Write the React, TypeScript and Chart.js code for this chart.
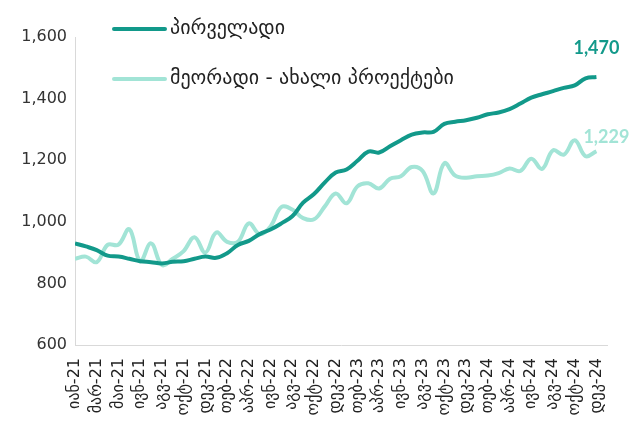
import React, { useEffect, useRef } from 'react';
import { Chart, registerables } from 'chart.js';

Chart.register(...registerables);

const tickLabels = [
  'იან-21', 'მარ-21', 'მაი-21', 'ივნ-21', 'აგვ-21', 'ოქტ-21', 'დეკ-21',
  'თებ-22', 'აპრ-22', 'ივნ-22', 'აგვ-22', 'ოქტ-22', 'დეკ-22',
  'თებ-23', 'აპრ-23', 'ივნ-23', 'აგვ-23', 'ოქტ-23', 'დეკ-23',
  'თებ-24', 'აპრ-24', 'ივნ-24', 'აგვ-24', 'ოქტ-24', 'დეკ-24',
];

const seriesNames = ['პირველადი', 'მეორადი - ახალი პროექტები'];

const primary = [
  930, 920, 908, 890, 887, 880, 872, 869, 865, 870,
  872, 880, 887, 883, 898, 925, 938, 960, 975, 995,
  1018, 1062, 1090, 1128, 1160, 1170, 1198, 1228, 1225, 1245,
  1265, 1283, 1290, 1292, 1318, 1325, 1330, 1338, 1349, 1355,
  1366, 1384, 1403, 1414, 1424, 1435, 1443, 1466, 1470,
];

const secondary = [
  880, 887, 869, 925, 926, 976, 872, 930, 860, 880,
  905, 950, 900, 965, 935, 935, 995, 960, 985, 1048,
  1040, 1012, 1008, 1050, 1092, 1060, 1115, 1125, 1108, 1140,
  1148, 1178, 1165, 1092, 1190, 1150, 1143, 1148, 1150, 1158,
  1173, 1165, 1205, 1172, 1232, 1218, 1265, 1213, 1229,
];

const yTicks = [600, 800, 1000, 1200, 1400, 1600];

const DARK = '#12998a';
const LIGHT = '#a2e4d6';
const FONT = "'DejaVu Sans', sans-serif";
const NUM_FONT = "Lato, 'DejaVu Sans', sans-serif";

const fmt = (v: number) => v.toLocaleString('en-US');

const overlayPlugin = {
  id: 'overlay',
  afterDatasetsDraw(chart: any) {
    const ctx = chart.ctx as CanvasRenderingContext2D;
    ctx.save();
    chart.data.datasets.forEach((ds: any, k: number) => {
      const y = 29 + k * 50;
      ctx.strokeStyle = ds.borderColor;
      ctx.lineWidth = 4;
      ctx.lineCap = 'round';
      ctx.beginPath();
      ctx.moveTo(114, y);
      ctx.lineTo(165, y);
      ctx.stroke();
      ctx.fillStyle = '#222';
      ctx.font = `20px ${FONT}`;
      ctx.textBaseline = 'middle';
      ctx.textAlign = 'left';
      ctx.fillText(ds.label, 170, y);
    });
    chart.data.datasets.forEach((ds: any, k: number) => {
      const meta = chart.getDatasetMeta(k);
      const pt = meta.data[meta.data.length - 1];
      const val = ds.data[ds.data.length - 1].y;
      ctx.fillStyle = ds.borderColor;
      ctx.font = `bold 18px ${NUM_FONT}`;
      ctx.textBaseline = 'middle';
      if (k === 0) {
        ctx.textAlign = 'center';
        ctx.fillText(fmt(val), pt.x, pt.y - 29);
      } else {
        ctx.textAlign = 'left';
        ctx.fillText(fmt(val), pt.x - 13, pt.y - 14);
      }
    });
    ctx.restore();
  },
};

export default function App() {
  const ref = useRef<HTMLCanvasElement | null>(null);
  useEffect(() => {
    if (!ref.current) return;
    const chart = new Chart(ref.current, {
      type: 'line',
      data: {
        datasets: [
          {
            label: seriesNames[0],
            data: primary.map((v, i) => ({ x: i, y: v })),
            borderColor: DARK,
            backgroundColor: DARK,
            borderWidth: 4,
            pointRadius: 0,
            tension: 0.4,
          },
          {
            label: seriesNames[1],
            data: secondary.map((v, i) => ({ x: i, y: v })),
            borderColor: LIGHT,
            backgroundColor: LIGHT,
            borderWidth: 4,
            pointRadius: 0,
            tension: 0.4,
          },
        ],
      },
      options: {
        animation: false,
        responsive: false,
        maintainAspectRatio: false,
        layout: { padding: { top: 37, right: 18, left: 0, bottom: 0 } },
        plugins: { legend: { display: false }, tooltip: { enabled: false } },
        scales: {
          x: {
            type: 'linear',
            min: 0,
            max: 49,
            grid: { display: false, drawTicks: false },
            border: { display: true, color: '#d9d9d9', width: 1 },
            afterFit: (s: any) => { s.height = 80; },
            afterBuildTicks: (s: any) => {
              s.ticks = tickLabels.map((_, k) => ({ value: k * 2 }));
            },
            ticks: {
              autoSkip: false,
              minRotation: 90,
              maxRotation: 90,
              padding: 13,
              color: '#222',
              font: { family: FONT, size: 16 },
              callback: (v: any) => tickLabels[Math.round(Number(v) / 2)] ?? '',
            },
          },
          y: {
            min: 600,
            max: 1600,
            grid: { display: false, drawTicks: false },
            border: { display: true, color: '#d9d9d9', width: 1 },
            afterFit: (s: any) => { s.width = 75; },
            afterBuildTicks: (s: any) => {
              s.ticks = yTicks.map((v) => ({ value: v }));
            },
            ticks: {
              padding: 8,
              color: '#333',
              font: { family: FONT, size: 16 },
              callback: (v: any) => fmt(Number(v)),
            },
          },
        },
      },
      plugins: [overlayPlugin],
    } as any);
    return () => chart.destroy();
  }, []);
  return (
    <div style={{ position: 'fixed', left: 0, top: 0, width: 629, height: 425, background: '#fff' }}>
      <canvas ref={ref} width={629} height={425} style={{ width: 629, height: 425 }} />
    </div>
  );
}
